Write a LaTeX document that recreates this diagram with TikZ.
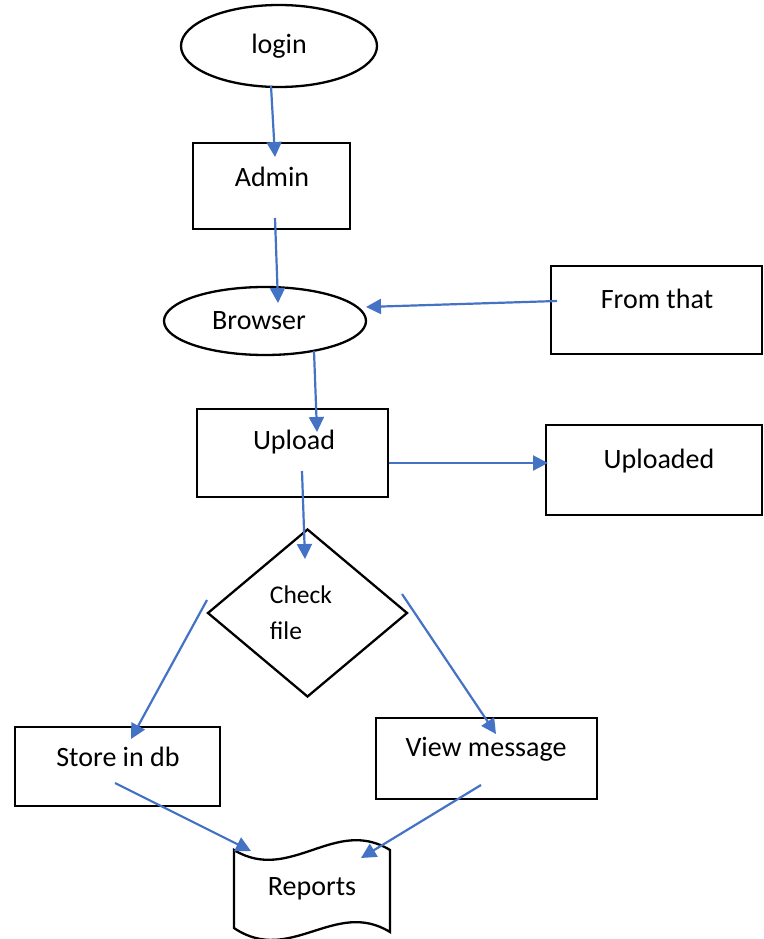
\documentclass[tikz,border=0pt]{standalone}
\usepackage{fontspec}
\setmainfont{Carlito}
\usetikzlibrary{shapes.geometric,arrows.meta}
\definecolor{arrblue}{HTML}{4472C4}
\begin{document}
\begin{tikzpicture}[x=1pt,y=-1pt,
  box/.style={draw,line width=2.3pt,rectangle,inner sep=0pt},
  oval/.style={draw,line width=2.3pt,ellipse,inner sep=0pt},
  decide/.style={draw,line width=2.3pt,diamond,inner sep=0pt},
  txt/.style={inner sep=0pt,font=\fontsize{28}{34}\selectfont},
  smalltxt/.style={inner sep=0pt,align=left,font=\fontsize{25.5}{36}\selectfont},
  flow/.style={draw=arrblue,line width=2.2pt,-{Triangle[length=15pt,width=15pt]}}]
\useasboundingbox (0,0) rectangle (763,939);
% shapes
\node[oval,minimum width=196pt,minimum height=82pt] (login) at (279,46) {};
\node[box,minimum width=157pt,minimum height=86pt] (admin) at (271.5,186) {};
\node[oval,minimum width=202pt,minimum height=68pt] (browser) at (265,321) {};
\node[box,minimum width=211pt,minimum height=88pt] (fromthat) at (656.5,310) {};
\node[box,minimum width=191pt,minimum height=88pt] (upload) at (292.5,453) {};
\node[box,minimum width=216pt,minimum height=90pt] (uploaded) at (654,470) {};
\node[decide,minimum width=200pt,minimum height=168pt] (check) at (307.5,613) {};
\node[box,minimum width=205pt,minimum height=79pt] (store) at (117.5,766.5) {};
\node[box,minimum width=221pt,minimum height=81pt] (view) at (486.5,758.5) {};
\coordinate (reports) at (312,889);
\draw[line width=2.3pt] (234,850) .. controls (290,884) and (335,816) .. (390,850)
  -- (390,932) .. controls (335,898) and (290,966) .. (234,928) -- cycle;
% texts
\node[txt] (logintxt) at (279,46) {login};
\node[txt] (admintxt) at (272,177) {Admin};
\node[txt] (browsertxt) at (259,321) {Browser};
\node[txt] (fromthattxt) at (657,299) {From that};
\node[txt] (uploadtxt) at (294,442) {Upload};
\node[txt] (uploadedtxt) at (659,461) {Uploaded};
\node[smalltxt] (checktxt) at (301,613) {Check\\file};
\node[txt] (storetxt) at (118,757) {Store in db};
\node[txt] (viewtxt) at (486,749) {View message};
\node[txt] (reportstxt) at (312,889) {Reports};
% connector end points
\coordinate (a1) at (271,86);   \coordinate (b1) at (275,157);
\coordinate (a2) at (275,218);  \coordinate (b2) at (278,303);
\coordinate (a3) at (557,301);  \coordinate (b3) at (366,307);
\coordinate (a4) at (314,351);  \coordinate (b4) at (317,432);
\coordinate (a5) at (389,463);  \coordinate (b5) at (548,463);
\coordinate (a6) at (302,471);  \coordinate (b6) at (305,559);
\coordinate (a7) at (207,600);  \coordinate (b7) at (131,739);
\coordinate (a8) at (402,594);  \coordinate (b8) at (496,734);
\coordinate (a9) at (115,783);  \coordinate (b9) at (251,851);
\coordinate (a10) at (481,785); \coordinate (b10) at (361,858);
% connectors
\draw[flow] (a1) -- (b1);
\draw[flow] (a2) -- (b2);
\draw[flow] (a3) -- (b3);
\draw[flow] (a4) -- (b4);
\draw[flow] (a5) -- (b5);
\draw[flow] (a6) -- (b6);
\draw[flow] (a7) -- (b7);
\draw[flow] (a8) -- (b8);
\draw[flow] (a9) -- (b9);
\draw[flow] (a10) -- (b10);
\end{tikzpicture}
\end{document}
